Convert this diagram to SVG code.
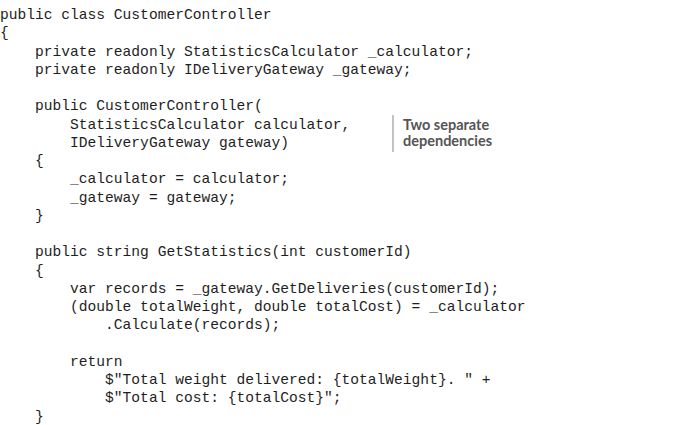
<svg xmlns="http://www.w3.org/2000/svg" width="682" height="425" viewBox="0 0 682 425">
<style>
.code{font-family:"Liberation Mono","Courier New",monospace;font-size:14.6px;fill:#1e1e1e;white-space:pre}
.note{font-family:Lato,"Open Sans",sans-serif;font-weight:bold;font-size:14.5px;fill:#555}
.bar{stroke:#9a9a9a;stroke-width:1.2}
</style>
<rect width="682" height="425" fill="#fff"/>
<g id="code" xml:space="preserve">
<text class="code" x="0" y="19">public class CustomerController</text>
<text class="code" x="0" y="37.25">{</text>
<text class="code" x="0" y="55.5">    private readonly StatisticsCalculator _calculator;</text>
<text class="code" x="0" y="73.75">    private readonly IDeliveryGateway _gateway;</text>
<text class="code" x="0" y="110.25">    public CustomerController(</text>
<text class="code" x="0" y="128.5">        StatisticsCalculator calculator,</text>
<text class="code" x="0" y="146.75">        IDeliveryGateway gateway)</text>
<text class="code" x="0" y="165">    {</text>
<text class="code" x="0" y="183.25">        _calculator = calculator;</text>
<text class="code" x="0" y="201.5">        _gateway = gateway;</text>
<text class="code" x="0" y="219.75">    }</text>
<text class="code" x="0" y="256.25">    public string GetStatistics(int customerId)</text>
<text class="code" x="0" y="274.5">    {</text>
<text class="code" x="0" y="292.75">        var records = _gateway.GetDeliveries(customerId);</text>
<text class="code" x="0" y="311">        (double totalWeight, double totalCost) = _calculator</text>
<text class="code" x="0" y="329.25">            .Calculate(records);</text>
<text class="code" x="0" y="365.75">        return</text>
<text class="code" x="0" y="384">            $"Total weight delivered: {totalWeight}. " +</text>
<text class="code" x="0" y="402.25">            $"Total cost: {totalCost}";</text>
<text class="code" x="0" y="420.5">    }</text>
</g>
<g id="annotation">
<line class="bar" x1="393" y1="115" x2="393" y2="152"/>
<text class="note" x="403" y="130">Two separate</text>
<text class="note" x="403" y="146">dependencies</text>
</g>
</svg>
